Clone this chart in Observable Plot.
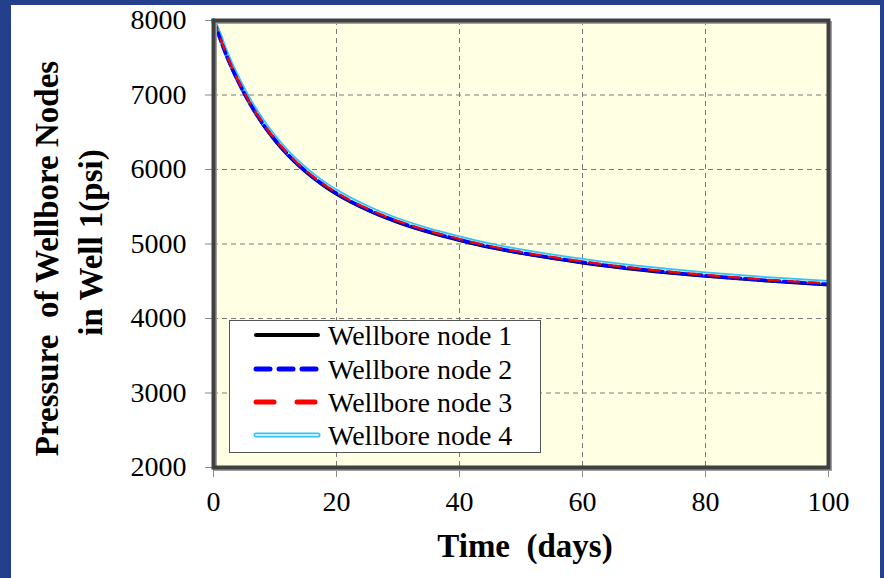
<!DOCTYPE html>
<html>
<head>
<meta charset="utf-8">
<script src="https://cdn.jsdelivr.net/npm/d3@7"></script>
<script src="https://cdn.jsdelivr.net/npm/@observablehq/plot@0.6"></script>
<style>
  html, body { margin: 0; padding: 0; }
  body { width: 884px; height: 578px; overflow: hidden; position: relative; background: #24408d; font-family: "Liberation Serif", "Times New Roman", serif; }
  #panel { position: absolute; left: 11px; top: 5px; width: 869px; height: 573px; background: #ffffff; }
  #chart { position: absolute; left: 0; top: 0; }
  #legend { position: absolute; left: 229px; top: 320px; }
  #legend svg, #legend text { font-family: "Liberation Serif", "Times New Roman", serif; }
</style>
</head>
<body>
<div id="panel"></div>
<div id="chart"></div>
<div id="legend"></div>
<script>
// ---- data ----
const time = [0, 1, 2, 3, 4, 5, 6, 8, 10, 12, 14, 16, 18, 20, 25, 30, 35, 40, 45, 50, 60, 70, 80, 90, 100];
const node1 = [8000, 7768, 7545, 7352, 7176, 7015, 6866, 6606, 6386, 6198, 6037, 5897, 5776, 5668, 5454, 5288, 5156, 5047, 4951, 4874, 4746, 4645, 4566, 4502, 4450];
const node2 = [8000, 7776, 7554, 7362, 7187, 7026, 6878, 6618, 6398, 6210, 6049, 5909, 5788, 5680, 5465, 5298, 5166, 5057, 4960, 4883, 4755, 4654, 4575, 4511, 4460];
const node3 = [8000, 7784, 7563, 7372, 7197, 7036, 6888, 6628, 6408, 6220, 6059, 5919, 5798, 5690, 5475, 5308, 5176, 5067, 4970, 4893, 4765, 4664, 4585, 4521, 4470];
const node4 = [8000, 7795, 7576, 7386, 7212, 7052, 6904, 6644, 6424, 6236, 6075, 5935, 5813, 5705, 5490, 5322, 5190, 5081, 4984, 4906, 4778, 4677, 4598, 4533, 4482];
const seriesNames = ["Wellbore node 1", "Wellbore node 2", "Wellbore node 3", "Wellbore node 4"];
const xTicks = [0, 20, 40, 60, 80, 100];
const yTicks = [2000, 3000, 4000, 5000, 6000, 7000, 8000];
const xTitle = "Time\u00a0\u00a0(days)";
const yTitle1 = "Pressure\u00a0\u00a0of Wellbore Nodes";
const yTitle2 = "in Well 1(psi)";

const toRows = (vals) => time.map((t, i) => ({t, v: vals[i]}));
const d1 = toRows(node1), d2 = toRows(node2), d3rows = toRows(node3), d4 = toRows(node4);

const serif = "Liberation Serif, Times New Roman, serif";
const fmt = (d) => String(d);

const chart = Plot.plot({
  width: 884,
  height: 578,
  marginLeft: 213,
  marginRight: 56,
  marginTop: 20,
  marginBottom: 111,
  style: { background: "transparent", fontFamily: serif, fontSize: "28px", color: "#000", overflow: "visible" },
  x: { domain: [0, 100], ticks: xTicks, tickFormat: fmt },
  y: { domain: [2000, 8000], ticks: yTicks, tickFormat: fmt },
  marks: [
    Plot.frame({ fill: "#ffffe3", stroke: null }),
    Plot.gridX(xTicks.slice(1, -1), { stroke: "#7a7a7a", strokeOpacity: 1, strokeDasharray: "5,4" }),
    Plot.gridY(yTicks.slice(1, -1), { stroke: "#7a7a7a", strokeOpacity: 1, strokeDasharray: "5,4" }),
    Plot.axisX(xTicks, { tickSize: 10, tickPadding: 14, label: null, stroke: "#8a8a8a", fill: "#000", fontSize: 28, tickFormat: fmt }),
    Plot.axisY(yTicks, { tickSize: 8, tickPadding: 19, label: null, stroke: "#8a8a8a", fill: "#000", fontSize: 28, tickFormat: fmt }),
    Plot.line(d1, { x: "t", y: "v", stroke: "#000000", strokeWidth: 3, curve: "monotone-x" }),
    Plot.line(d4, { x: "t", y: "v", stroke: "#33c4f5", strokeWidth: 5, curve: "monotone-x" }),
    Plot.line(d4, { x: "t", y: "v", stroke: "#c8f0ff", strokeWidth: 1.5, curve: "monotone-x" }),
    Plot.line(d2, { x: "t", y: "v", stroke: "#0000ff", strokeWidth: 3.5, strokeDasharray: "9,4", curve: "monotone-x" }),
    Plot.line(d3rows, { x: "t", y: "v", stroke: "#ff0000", strokeWidth: 2.2, strokeDasharray: "11,9", curve: "monotone-x" }),
    Plot.frame({ stroke: "#a0a0a0", strokeWidth: 3, dx: 2, dy: 2 }),
    Plot.frame({ stroke: "#404040", strokeWidth: 4 }),
    Plot.text([xTitle], { frameAnchor: "bottom", textAnchor: "middle", lineAnchor: "bottom", dx: 4, dy: 89, fontSize: 33, fontWeight: "bold", fill: "#000" }),
    Plot.text([yTitle1], { frameAnchor: "left", textAnchor: "middle", lineAnchor: "bottom", rotate: -90, dx: -156, dy: 14.5, fontSize: 33, fontWeight: "bold", fill: "#000" }),
    Plot.text([yTitle2], { frameAnchor: "left", textAnchor: "middle", lineAnchor: "bottom", rotate: -90, dx: -112, dy: -1.5, fontSize: 33, fontWeight: "bold", fill: "#000" })
  ]
});
document.getElementById("chart").appendChild(chart);

// ---- legend (SVG overlay, plain DOM) ----
const NS = "http://www.w3.org/2000/svg";
const mk = (tag, attrs, parent) => {
  const el = document.createElementNS(NS, tag);
  for (const k in attrs) el.setAttribute(k, attrs[k]);
  parent.appendChild(el);
  return el;
};
const legendStyles = [
  { color: "#000000", width: 4, dash: null },
  { color: "#0000ff", width: 5, dash: "14,9" },
  { color: "#ff0000", width: 5, dash: "18,23" },
  { color: "#33c4f5", width: 5, dash: null, inner: "#c8f0ff" }
];
const lw = 312, lh = 133;
const lsvg = mk("svg", { width: lw, height: lh }, document.getElementById("legend"));
lsvg.style.fontFamily = serif;
mk("rect", { x: 0.5, y: 0.5, width: lw - 1, height: lh - 1, fill: "#fff", stroke: "#555", "stroke-width": 1 }, lsvg);
const rowY = [15, 49, 82, 115];
seriesNames.forEach((name, i) => {
  const s = legendStyles[i];
  const a = { x1: 27, x2: 89, y1: rowY[i], y2: rowY[i], stroke: s.color, "stroke-width": s.width, "stroke-linecap": "round" };
  if (s.dash) a["stroke-dasharray"] = s.dash;
  mk("line", a, lsvg);
  if (s.inner) mk("line", { x1: 27, x2: 89, y1: rowY[i], y2: rowY[i], stroke: s.inner, "stroke-width": 2, "stroke-linecap": "round" }, lsvg);
  const t = mk("text", { x: 99, y: rowY[i], dy: "0.35em", "font-size": 28, fill: "#000" }, lsvg);
  t.style.fontFamily = serif;
  t.textContent = name;
});
</script>
</body>
</html>
